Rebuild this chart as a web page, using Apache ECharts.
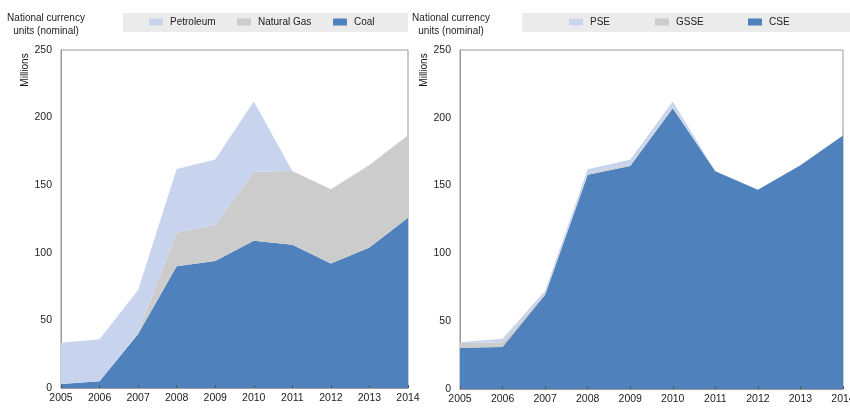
<!DOCTYPE html>
<html>
<head>
<meta charset="utf-8">
<script src="https://cdn.jsdelivr.net/npm/echarts@6/dist/echarts.min.js"></script>
<style>
  html, body { margin: 0; padding: 0; background: #fff; }
  #chart { width: 850px; height: 410px; }
</style>
</head>
<body>
<div id="chart"></div>
<script>
// categories
var years = ["2005", "2006", "2007", "2008", "2009", "2010", "2011", "2012", "2013", "2014"];

// left panel (by fuel)
var coal = [3, 5, 40, 90, 94, 109, 106, 92, 104, 126];
var naturalGas = [0, 0, 1, 25, 26.5, 51, 54.5, 55, 61, 61];
var petroleum = [30.5, 31, 31.5, 47, 48.5, 52, 0, 0, 0, 0];

// right panel (by support type)
var cse = [30.5, 31, 69.5, 158, 164.5, 207, 160.5, 147, 165, 187];
var gsse = [3.5, 3.5, 1, 1, 1, 1, 0, 0, 0, 0];
var pse = [0.5, 2.5, 2, 3, 3.5, 4, 0, 0, 0, 0];

var yTicks = [0, 50, 100, 150, 200, 250];

var cLight = "#c8d4ee";
var cGrey = "#cccccc";
var cDark = "#4f81bd";
var font = "Liberation Sans, Arial, sans-serif";

function area(name, data, color, idx, stack) {
  return {
    name: name,
    type: "line",
    stack: stack,
    xAxisIndex: idx,
    yAxisIndex: idx,
    symbol: "none",
    lineStyle: { width: 0 },
    itemStyle: { color: color },
    areaStyle: { color: color, opacity: 1 },
    data: data
  };
}

function xAx(idx) {
  return {
    type: "category",
    gridIndex: idx,
    boundaryGap: false,
    data: years,
    z: 5,
    axisLine: { lineStyle: { color: "#999", width: 1 } },
    axisTick: { inside: true, length: 3, lineStyle: { color: "#555" } },
    axisLabel: { color: "#222", fontSize: 10.5, fontFamily: font, margin: 5, interval: 0 }
  };
}

function yAx(idx) {
  return {
    type: "value",
    gridIndex: idx,
    min: yTicks[0],
    max: yTicks[yTicks.length - 1],
    interval: 50,
    axisLine: { show: true, lineStyle: { color: "#999" } },
    axisTick: { show: false },
    splitLine: { show: false },
    axisLabel: { color: "#222", fontSize: 10.5, fontFamily: font, margin: 9 }
  };
}

// one legend per item so each swatch sits where the original has it
function leg(name, left) {
  return {
    data: [name],
    left: left,
    top: 17,
    itemWidth: 14,
    itemHeight: 7,
    icon: "rect",
    padding: 0,
    selectedMode: false,
    textStyle: { color: "#222", fontSize: 10, fontFamily: font, padding: [0, 0, 0, 2] }
  };
}

function header(cx) {
  return {
    type: "text",
    left: cx - 40,
    top: 12,
    style: {
      text: "National currency\nunits (nominal)",
      font: "10px " + font,
      fill: "#222",
      textAlign: "center",
      lineHeight: 13,
      width: 80
    }
  };
}

function millions(x) {
  return {
    type: "text",
    x: x,
    y: 70,
    rotation: Math.PI / 2,
    style: {
      text: "Millions",
      font: "10px " + font,
      fill: "#111",
      textAlign: "center",
      textVerticalAlign: "middle"
    }
  };
}

var chart = echarts.init(document.getElementById("chart"), null, { renderer: "canvas" });
chart.setOption({
  animation: false,
  backgroundColor: "#fff",
  grid: [
    { left: 61, right: 442, top: 50, bottom: 22, show: true, borderColor: "#999", borderWidth: 1, outerBoundsMode: "none", containLabel: false },
    { left: 460, right: 7, top: 50, bottom: 21, show: true, borderColor: "#999", borderWidth: 1, outerBoundsMode: "none", containLabel: false }
  ],
  xAxis: [xAx(0), xAx(1)],
  yAxis: [yAx(0), yAx(1)],
  legend: [
    leg("Petroleum", 149),
    leg("Natural Gas", 237),
    leg("Coal", 333),
    leg("PSE", 569),
    leg("GSSE", 655),
    leg("CSE", 748)
  ],
  graphic: [
    { type: "rect", shape: { x: 123, y: 13, width: 285, height: 19 }, style: { fill: "#ebebeb" }, z: -1 },
    { type: "rect", shape: { x: 522, y: 13, width: 328, height: 19 }, style: { fill: "#ebebeb" }, z: -1 },
    header(46),
    header(451),
    millions(25),
    millions(424)
  ],
  series: [
    area("Coal", coal, cDark, 0, "fuel"),
    area("Natural Gas", naturalGas, cGrey, 0, "fuel"),
    area("Petroleum", petroleum, cLight, 0, "fuel"),
    area("CSE", cse, cDark, 1, "type"),
    area("GSSE", gsse, cGrey, 1, "type"),
    area("PSE", pse, cLight, 1, "type")
  ]
});
</script>
</body>
</html>
